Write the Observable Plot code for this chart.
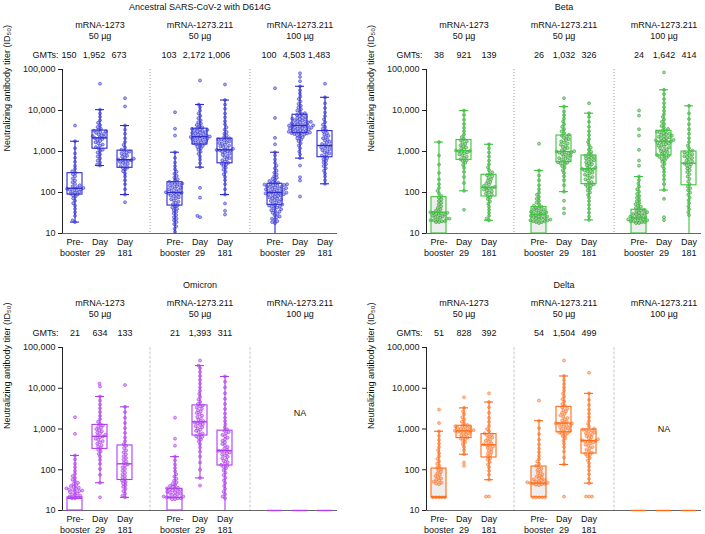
<!DOCTYPE html>
<html><head><meta charset="utf-8">
<script src="https://cdn.jsdelivr.net/npm/d3@7"></script>
<script src="https://cdn.jsdelivr.net/npm/@observablehq/plot@0.6"></script>
<style>
body{margin:0;background:#fff;}
#root{position:relative;width:705px;height:534px;overflow:hidden;background:#fff;}
#root svg{position:absolute;}
</style></head><body><div id="root"></div>
<script>
// ---------- categories / labels ----------
const groups = ["mRNA-1273\n50 µg", "mRNA-1273.211\n50 µg", "mRNA-1273.211\n100 µg"];
const timeLabels = ["Pre-\nbooster", "Day\n29", "Day\n181"];
const yTicks = [10, 100, 1000, 10000, 100000];
const yLabel = "Neutralizing antibody titer (ID₅₀)";

// ---------- GMTs ----------
const ancestralGMT = [150, 1952, 673, 103, 2172, 1006, 100, 4503, 1483];
const betaGMT = [38, 921, 139, 26, 1032, 326, 24, 1642, 414];
const omicronGMT = [21, 634, 133, 21, 1393, 311, null, null, null];
const deltaGMT = [51, 828, 392, 54, 1504, 499, null, null, null];

// ---------- box statistics [low whisker, Q1, median, Q3, high whisker] ----------
const ancestralStats = [
  [19, 89, 127, 296, 1780], [455, 1170, 2150, 3240, 10500], [89, 400, 630, 1050, 4300],
  [10, 48, 100, 178, 960], [415, 1480, 2300, 3600, 14000], [89, 515, 1100, 2050, 18000],
  [10, 50, 100, 163, 960], [690, 2800, 4300, 7900, 39000], [163, 725, 1400, 3150, 21000]
];
const betaStats = [
  [10, 10, 33, 77, 1700], [110, 625, 1040, 1900, 10000], [21, 80, 134, 270, 1500],
  [10, 10, 29, 44, 345], [105, 550, 1000, 2450, 12500], [21.5, 160, 380, 800, 8600],
  [10, 10, 24, 38, 245], [115, 800, 1780, 3200, 32000], [10, 150, 520, 1000, 13000]
];
const omicronStats = [
  [10, 10, 20, 21, 224], [48, 325, 660, 1260, 6300], [21, 56, 140, 395, 3500],
  [10, 10, 21, 34, 210], [63, 690, 1500, 3800, 36000], [10, 127, 296, 910, 19500],
  [10, 10, 10, 10, 10], [10, 10, 10, 10, 10], [10, 10, 10, 10, 10]
];
const deltaStats = [
  [21, 21, 21, 107, 880], [240, 600, 900, 1200, 3300], [57, 200, 410, 750, 4600],
  [21, 21, 47, 120, 1600], [135, 830, 1400, 3500, 20000], [47, 250, 520, 970, 7500],
  [10, 10, 10, 10, 10], [10, 10, 10, 10, 10], [10, 10, 10, 10, 10]
];

// ---------- individual titers ----------
const anc1273Pre = [19, 21, 27, 33, 40, 48, 55, 63, 72, 80, 86, 90, 94, 98, 103, 108, 112, 116, 120, 123, 126, 129, 135, 142, 150, 162, 178, 196, 220, 248, 280, 300, 330, 380, 450, 560, 700, 900, 1200, 1780, 4300];
const anc1273D29 = [455, 480, 540, 600, 680, 760, 850, 940, 1030, 1110, 1190, 1280, 1380, 1480, 1580, 1680, 1800, 1920, 2020, 2120, 2180, 2280, 2380, 2490, 2600, 2720, 2850, 2980, 3100, 3220, 3350, 3600, 3950, 4400, 5000, 5800, 7000, 8500, 10500, 45000];
const anc1273D181 = [58, 89, 120, 160, 200, 245, 290, 330, 365, 395, 410, 440, 470, 500, 530, 555, 580, 600, 615, 628, 640, 670, 700, 740, 790, 840, 890, 940, 990, 1040, 1100, 1250, 1450, 1700, 2100, 2700, 3400, 4300, 12600, 20000];
const anc211_50Pre = [11, 13, 15, 17, 19, 21, 23, 25, 28, 31, 34, 37, 40, 43, 46, 49, 52, 56, 60, 64, 68, 72, 76, 80, 84, 88, 91, 94, 97, 99, 102, 106, 110, 115, 120, 125, 130, 136, 142, 148, 154, 160, 166, 171, 176, 182, 195, 210, 230, 255, 285, 320, 370, 440, 540, 700, 960, 2450, 3600, 9100];
const anc211_50D29 = [25, 27, 75, 130, 415, 520, 640, 760, 880, 990, 1100, 1200, 1290, 1370, 1440, 1500, 1560, 1620, 1680, 1740, 1800, 1860, 1920, 1980, 2040, 2100, 2160, 2210, 2260, 2290, 2320, 2400, 2480, 2560, 2640, 2720, 2800, 2890, 2980, 3080, 3180, 3280, 3380, 3480, 3580, 3700, 3900, 4150, 4450, 4800, 5200, 5800, 6500, 7400, 8500, 10000, 12000, 14000, 54000];
const anc211_50D181 = [29, 36, 54, 89, 120, 160, 200, 240, 280, 320, 360, 400, 440, 475, 505, 530, 570, 610, 650, 690, 730, 780, 830, 880, 930, 980, 1020, 1060, 1080, 1095, 1110, 1160, 1220, 1280, 1340, 1400, 1470, 1540, 1610, 1690, 1770, 1850, 1930, 1990, 2040, 2100, 2250, 2450, 2700, 3000, 3400, 3900, 4600, 5500, 6800, 8500, 11000, 14000, 18000, 43000];
const anc211_100Pre = [18, 19, 20, 22, 23, 25, 26, 28, 30, 32, 34, 35, 37, 39, 41, 43, 45, 46, 48, 49, 51, 54, 57, 60, 62, 65, 68, 70, 73, 76, 79, 82, 84, 87, 89, 91, 93, 95, 97, 99, 101, 104, 107, 110, 113, 116, 119, 122, 125, 128, 132, 136, 139, 142, 146, 150, 153, 156, 159, 162, 166, 172, 180, 190, 200, 215, 230, 250, 275, 305, 340, 390, 450, 530, 640, 800, 960, 1500, 2150, 6600, 35000];
const anc211_100D29 = [80, 195, 236, 455, 690, 850, 1000, 1200, 1400, 1600, 1800, 1950, 2100, 2250, 2380, 2500, 2600, 2680, 2750, 2790, 2830, 2900, 2970, 3040, 3110, 3180, 3250, 3330, 3410, 3490, 3570, 3650, 3730, 3810, 3900, 3990, 4080, 4160, 4230, 4290, 4350, 4450, 4560, 4670, 4790, 4910, 5040, 5170, 5310, 5460, 5620, 5790, 5970, 6160, 6360, 6570, 6800, 7050, 7350, 7800, 8100, 8600, 9200, 9900, 10800, 11800, 13000, 14500, 16500, 19000, 22000, 26000, 31000, 39000, 52000, 66000, 81000];
const anc211_100D181 = [163, 200, 245, 290, 340, 390, 440, 490, 540, 590, 640, 690, 750, 800, 850, 900, 960, 1020, 1080, 1140, 1200, 1260, 1320, 1380, 1430, 1520, 1620, 1720, 1840, 1970, 2100, 2250, 2420, 2600, 2800, 3050, 3300, 3600, 4000, 4500, 5200, 6100, 7300, 9000, 11500, 15000, 21000, 45000];

const beta1273Pre = [19, 19, 20, 20, 21, 21, 22, 23, 23, 24, 25, 26, 27, 28, 29, 30, 31, 32, 32, 33, 34, 36, 39, 42, 46, 51, 56, 62, 68, 75, 82, 95, 110, 130, 160, 210, 300, 480, 800, 1700];
const beta1273D29 = [38, 110, 170, 240, 320, 400, 470, 530, 580, 615, 650, 700, 750, 800, 850, 900, 950, 990, 1020, 1035, 1060, 1120, 1190, 1260, 1340, 1430, 1530, 1640, 1760, 1880, 2000, 2250, 2600, 3100, 3800, 4700, 6000, 7800, 10000];
const beta1273D181 = [21, 23, 27, 32, 38, 45, 53, 61, 69, 76, 82, 88, 94, 100, 106, 112, 118, 124, 129, 133, 137, 145, 155, 167, 180, 195, 212, 230, 248, 266, 280, 310, 350, 410, 490, 600, 750, 950, 1200, 1500];
const beta211_50Pre = [18, 19, 19, 20, 20, 21, 21, 22, 22, 23, 24, 24, 25, 26, 26, 27, 28, 29, 30, 31, 32, 33, 34, 35, 36, 38, 39, 41, 43, 45, 48, 52, 57, 63, 70, 78, 88, 100, 120, 150, 200, 260, 345, 1550];
const beta211_50D29 = [31, 41, 63, 105, 150, 200, 250, 300, 350, 400, 440, 480, 510, 530, 545, 570, 600, 630, 660, 690, 720, 750, 790, 830, 870, 900, 930, 955, 975, 995, 1020, 1080, 1150, 1220, 1300, 1380, 1470, 1560, 1660, 1770, 1890, 2010, 2140, 2280, 2420, 2550, 2800, 3100, 3500, 4000, 4600, 5400, 6400, 7700, 9500, 12500, 20000];
const beta211_50D181 = [21.5, 26, 32, 40, 50, 62, 75, 88, 100, 112, 124, 136, 146, 154, 158, 166, 180, 195, 210, 225, 240, 256, 272, 290, 308, 325, 342, 357, 368, 376, 390, 410, 435, 460, 490, 520, 550, 580, 610, 640, 670, 700, 730, 760, 790, 830, 900, 990, 1100, 1250, 1450, 1700, 2000, 2500, 3100, 4000, 5300, 7000, 8600, 15000];
const beta211_100Pre = [18, 18, 19, 19, 20, 20, 21, 21, 22, 22, 23, 24, 24, 25, 26, 27, 28, 29, 30, 31, 32, 33, 35, 36, 38, 40, 42, 45, 48, 52, 56, 61, 67, 74, 82, 92, 105, 120, 140, 165, 200, 245, 450, 600, 1100, 2450, 3500, 7500, 10000];
const beta211_100D29 = [21, 25, 70, 115, 160, 210, 260, 320, 380, 440, 500, 560, 610, 660, 700, 740, 770, 790, 820, 870, 920, 970, 1020, 1080, 1140, 1200, 1260, 1320, 1380, 1440, 1500, 1560, 1620, 1670, 1720, 1760, 1800, 1860, 1920, 1990, 2060, 2130, 2200, 2280, 2360, 2440, 2530, 2620, 2720, 2820, 2930, 3040, 3150, 3300, 3550, 3850, 4200, 4700, 5300, 6000, 7000, 8200, 9800, 12000, 15000, 19000, 25000, 32000, 85000];
const beta211_100D181 = [28, 33, 39, 46, 55, 65, 76, 88, 100, 113, 127, 140, 160, 185, 215, 245, 280, 315, 350, 385, 420, 455, 490, 510, 535, 570, 610, 650, 690, 730, 770, 810, 850, 900, 950, 990, 1050, 1200, 1400, 1700, 2100, 2700, 3500, 4600, 6200, 8500, 13000];

const omi1273Pre = [20, 20, 21, 22, 23, 24, 25, 26, 28, 29, 30, 31, 32, 33, 34, 35, 36, 38, 40, 42, 45, 48, 52, 57, 63, 70, 80, 95, 115, 140, 180, 224, 760, 1950];
const omi1273D29 = [21, 48, 75, 105, 140, 175, 210, 245, 280, 310, 340, 370, 400, 435, 470, 505, 540, 580, 620, 650, 680, 720, 770, 820, 880, 940, 1000, 1070, 1140, 1220, 1320, 1500, 1750, 2100, 2600, 3200, 4000, 5000, 6300, 11000, 13000];
const omi1273D181 = [21, 23, 26, 30, 34, 38, 42, 46, 50, 54, 59, 64, 70, 77, 85, 94, 104, 115, 126, 136, 146, 160, 176, 195, 215, 240, 270, 300, 340, 385, 420, 500, 620, 800, 1050, 1400, 1900, 2600, 3500, 12000];
const omi211_50Pre = [19, 19, 20, 20, 21, 21, 22, 22, 23, 24, 25, 26, 27, 28, 29, 30, 31, 32, 33, 34, 35, 36, 38, 40, 42, 45, 49, 54, 60, 68, 78, 92, 110, 135, 170, 210, 390, 580, 1900];
const omi211_50D29 = [41, 63, 100, 150, 210, 280, 350, 420, 490, 550, 600, 640, 670, 720, 780, 840, 900, 970, 1040, 1110, 1180, 1250, 1320, 1390, 1450, 1490, 1560, 1680, 1820, 1970, 2130, 2300, 2480, 2680, 2900, 3130, 3380, 3620, 3780, 4100, 4600, 5300, 6200, 7300, 8700, 10500, 13000, 16000, 20000, 25000, 31000, 36000, 48000];
const omi211_50D181 = [20, 22, 25, 29, 34, 40, 47, 55, 64, 74, 85, 97, 108, 118, 125, 132, 142, 153, 165, 178, 192, 207, 222, 237, 252, 266, 278, 287, 293, 305, 330, 360, 395, 430, 470, 515, 560, 610, 665, 720, 780, 840, 900, 980, 1100, 1300, 1550, 1900, 2400, 3100, 4100, 5500, 7500, 10500, 14500, 19500];

const del1273Pre = [21, 21, 21, 21, 21, 44, 46, 48, 51, 54, 57, 61, 65, 70, 75, 81, 88, 96, 104, 112, 125, 140, 160, 185, 215, 255, 300, 360, 440, 540, 680, 880, 1400, 3000];
const del1273D29 = [125, 150, 240, 300, 360, 420, 470, 520, 560, 590, 620, 660, 700, 740, 780, 810, 840, 865, 885, 898, 910, 940, 970, 1000, 1030, 1060, 1100, 1130, 1160, 1190, 1250, 1350, 1500, 1700, 1950, 2300, 2700, 3300, 6000];
const del1273D181 = [22, 22, 57, 75, 95, 115, 135, 155, 175, 190, 210, 230, 250, 270, 295, 320, 345, 370, 390, 405, 420, 450, 480, 510, 545, 580, 620, 660, 700, 740, 780, 880, 1000, 1200, 1500, 1900, 2500, 3400, 4600, 7500];
const del211_50Pre = [21, 21, 21, 21, 21, 42, 43, 44, 45, 46, 47, 48, 49, 50, 52, 54, 56, 58, 61, 64, 68, 72, 77, 83, 90, 98, 106, 115, 125, 140, 160, 185, 220, 270, 330, 420, 550, 750, 1050, 1600, 5000];
const del211_50D29 = [22, 135, 200, 280, 360, 440, 520, 590, 650, 710, 760, 800, 820, 860, 900, 950, 1000, 1050, 1100, 1150, 1200, 1250, 1300, 1340, 1370, 1390, 1430, 1520, 1620, 1740, 1870, 2010, 2160, 2330, 2510, 2710, 2930, 3170, 3420, 3700, 4100, 4700, 5400, 6300, 7400, 8800, 10500, 12800, 16000, 20000, 48000];
const del211_50D181 = [22, 22, 22, 47, 60, 78, 98, 120, 145, 170, 195, 215, 232, 245, 262, 285, 310, 335, 360, 385, 410, 435, 460, 480, 498, 510, 518, 530, 560, 595, 630, 670, 710, 750, 790, 830, 870, 910, 945, 965, 1020, 1150, 1350, 1600, 1950, 2400, 3000, 3900, 5200, 7500, 24000];

// ---------- panel builder ----------
const colKeys = ["0-0", "0-1", "0-2", "s1", "1-0", "1-1", "1-2", "s2", "2-0", "2-1", "2-2"];
const keyOf = k => `${Math.floor(k / 3)}-${k % 3}`;
const fmt = d3.format(",");

function panel(cfg) {
  const pts = cfg.values.flatMap((arr, k) => (arr || []).map(v => ({col: keyOf(k), v})));
  const boxes = cfg.stats.map((s, k) => ({col: keyOf(k), lo: s[0], q1: s[1], med: s[2], q3: s[3], hi: s[4], t: k % 3, na: !cfg.values[k]}));
  const gm = cfg.gmts.map((g, k) => ({col: keyOf(k), g})).filter(d => d.g != null);
  const grp = groups.map((g, i) => ({col: `${i}-1`, g}));
  const tl = cfg.values.map((a, k) => ({col: keyOf(k), t: timeLabels[k % 3], has: !!a})).filter(d => d.has);
  const naCols = cfg.values[7] ? [] : ["2-1"];
  const c = cfg.color, bc = cfg.boxColor;
  const svg = Plot.plot({
    width: 352, height: cfg.height,
    marginLeft: cfg.marginLeft, marginRight: cfg.marginRight,
    marginTop: 69, marginBottom: cfg.marginBottom,
    style: {fontFamily: "'Liberation Sans', Arial, sans-serif", fontSize: "9px", color: "#222", background: "transparent", overflow: "visible"},
    fx: {domain: colKeys, padding: 0, axis: null},
    y: {type: "log", domain: [10, 100000], ticks: yTicks, tickFormat: ",", tickSize: 4, tickPadding: 3, line: true, label: null},
    marks: [
      Plot.rect(boxes.filter(d => d.t === 0 && !d.na), {fx: "col", y1: "q1", y2: "q3", insetLeft: 5, insetRight: 5, fill: cfg.preFill}),
      Plot.ruleX(["s1", "s2"], {fx: d => d, x: null, stroke: cfg.sepStroke, strokeDasharray: cfg.sepDash, strokeWidth: 1}),
      Plot.ruleY([10], {stroke: "#666", strokeWidth: 1}),
      Plot.dot(pts, Plot.dodgeX({anchor: "middle", padding: 0}, {fx: "col", y: "v", r: 1.5, fill: c, fillOpacity: 0.4, stroke: c, strokeOpacity: 0.85, strokeWidth: 0.6})),
      Plot.rect(boxes, {fx: "col", y1: "q1", y2: "q3", insetLeft: 5, insetRight: 5, fill: "none", stroke: bc, strokeWidth: 1.1}),
      Plot.ruleX(boxes.filter(d => d.lo < d.q1), {fx: "col", x: null, y1: "lo", y2: "q1", stroke: bc, strokeWidth: 1.1}),
      Plot.ruleX(boxes.filter(d => d.hi > d.q3), {fx: "col", x: null, y1: "q3", y2: "hi", stroke: bc, strokeWidth: 1.1}),
      Plot.tickY(boxes.filter(d => d.hi > d.q3), {fx: "col", y: "hi", insetLeft: 8, insetRight: 8, stroke: bc, strokeWidth: 1.1}),
      Plot.tickY(boxes.filter(d => d.lo > 10 && d.lo < d.q1), {fx: "col", y: "lo", insetLeft: 8, insetRight: 8, stroke: bc, strokeWidth: 1.1}),
      Plot.tickY(boxes, {fx: "col", y: "med", insetLeft: 5, insetRight: 5, stroke: bc, strokeWidth: 1.4}),
      Plot.text([cfg.title], {fx: () => "1-1", text: d => d, frameAnchor: "top", dy: -66, fill: "#111"}),
      Plot.text(grp, {fx: "col", text: "g", frameAnchor: "top", dy: -50, lineHeight: 1.25, fill: "#111"}),
      Plot.text(gm, {fx: "col", text: d => fmt(d.g), frameAnchor: "top", dy: -18, dx: cfg.gmtDx, fill: "#111"}),
      Plot.text(["GMTs:"], {fx: () => "0-0", text: d => d, frameAnchor: "top-left", textAnchor: "end", dx: -4, dy: -18, fill: "#111"}),
      Plot.text(tl, {fx: "col", text: "t", frameAnchor: "bottom", dy: 22, lineHeight: 1.2, fill: "#111"}),
      Plot.text([yLabel], {fx: () => "0-0", text: d => d, frameAnchor: "left", rotate: -90, dx: -55, fill: "#111"}),
      Plot.text(naCols, {fx: d => d, text: () => "NA", frameAnchor: "middle", dy: cfg.naDy, fill: "#111"})
    ]
  });
  svg.style.left = cfg.left + "px";
  svg.style.top = cfg.top + "px";
  document.getElementById("root").appendChild(svg);
}

const topH = 266, botH = 256;
panel({title: "Ancestral SARS-CoV-2 with D614G", color: "#2b2bd2", boxColor: "#2b2bd2",
  values: [anc1273Pre, anc1273D29, anc1273D181, anc211_50Pre, anc211_50D29, anc211_50D181, anc211_100Pre, anc211_100D29, anc211_100D181],
  stats: ancestralStats, gmts: ancestralGMT, preFill: "none", left: 0, top: 0, height: topH,
  marginLeft: 60, marginRight: 14, marginBottom: topH - 233, gmtDx: -6, naDy: 0, sepStroke: "#999", sepDash: "1,2"});
panel({title: "Beta", color: "#1f9a1f", boxColor: "#3cc43c",
  values: [beta1273Pre, beta1273D29, beta1273D181, beta211_50Pre, beta211_50D29, beta211_50D181, beta211_100Pre, beta211_100D29, beta211_100D181],
  stats: betaStats, gmts: betaGMT, preFill: "#eeeeee", left: 353, top: 0, height: topH,
  marginLeft: 70, marginRight: 2, marginBottom: topH - 233, gmtDx: 0, naDy: 0, sepStroke: "#999", sepDash: "1,2"});
panel({title: "Omicron", color: "#a62ae6", boxColor: "#b03cf0",
  values: [omi1273Pre, omi1273D29, omi1273D181, omi211_50Pre, omi211_50D29, omi211_50D181, null, null, null],
  stats: omicronStats, gmts: omicronGMT, preFill: "none", left: 0, top: 278, height: botH,
  marginLeft: 60, marginRight: 14, marginBottom: botH - 232, gmtDx: 0, naDy: -16, sepStroke: "#c8c8c8", sepDash: "3,1.5"});
panel({title: "Delta", color: "#ff6a17", boxColor: "#ff6a17",
  values: [del1273Pre, del1273D29, del1273D181, del211_50Pre, del211_50D29, del211_50D181, null, null, null],
  stats: deltaStats, gmts: deltaGMT, preFill: "#eeeeee", left: 353, top: 278, height: botH,
  marginLeft: 70, marginRight: 2, marginBottom: botH - 232, gmtDx: 0, naDy: 0, sepStroke: "#c8c8c8", sepDash: "3,1.5"});
</script>
</body></html>
